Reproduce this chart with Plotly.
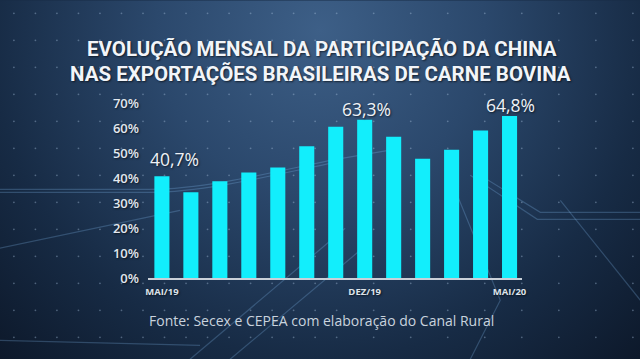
import base64
import plotly.graph_objects as go

# ---- data ----
months = ["MAI/19", "JUN/19", "JUL/19", "AGO/19", "SET/19", "OUT/19", "NOV/19",
          "DEZ/19", "JAN/20", "FEV/20", "MAR/20", "ABR/20", "MAI/20"]
share = [40.7, 34.3, 38.7, 42.2, 44.2, 52.7, 60.5, 63.3, 56.5, 47.7, 51.3, 59.0, 64.8]
tick_labels = ["MAI/19", "DEZ/19", "MAI/20"]
tick_idx = [0, 7, 12]
y_ticks = [0, 10, 20, 30, 40, 50, 60, 70]
highlight_idx = [0, 7, 12]
highlight_text = ["40,7%", "63,3%", "64,8%"]

x = list(range(len(months)))

# ---- background (decorative svg) ----
W, H = 640, 359
dots = []
for row in range(14):
    yy = 13 + row * 27
    xx = 14
    while xx < W:
        dots.append(f'<circle cx="{xx:.1f}" cy="{yy}" r="0.9" fill="#a9c2de" fill-opacity="0.4"/>')
        xx += 21.5 if xx < 330 else 37
lines = [
    'M0,189 L150,189 C200,189 260,175 330,160 L400,148',
    'M0,192 L150,192 C200,192 260,178 330,163',
    'M470,175 L537,219 L640,219',
    'M475,172 L540,212 L640,212',
    'M190,359 L345,228',
    'M230,359 L360,250',
    'M455,190 L500,300 L470,359',
    'M0,340 L200,345',
    'M560,200 L640,300',
    'M-10,250 L180,210',
]
paths = ''.join(f'<path d="{d}" stroke="#8fc7ff" stroke-opacity="0.24" stroke-width="1.2" fill="none"/>' for d in lines)
svg = f'''<svg xmlns="http://www.w3.org/2000/svg" width="{W}" height="{H}" viewBox="0 0 {W} {H}" preserveAspectRatio="none">
<defs><radialGradient id="g" cx="320" cy="30" r="470" gradientUnits="userSpaceOnUse">
<stop offset="0" stop-color="#3d5f87"/><stop offset="0.35" stop-color="#2b486c"/>
<stop offset="0.7" stop-color="#172b45"/><stop offset="1" stop-color="#0c1728"/></radialGradient></defs>
<rect width="{W}" height="{H}" fill="url(#g)"/>{paths}{''.join(dots)}</svg>'''
bg_src = "data:image/svg+xml;base64," + base64.b64encode(svg.encode()).decode()

# plot area in pixels
L, R, T, B = 148, 521.7, 102.7, 277.7
pw, ph = R - L, B - T

def px(xp):
    return (xp - L) / pw

def py(yp):
    return (B - yp) / ph

fig = go.Figure()
fig.add_trace(go.Bar(x=x, y=share, marker=dict(color="#12eefc", line=dict(width=0)),
                     hoverinfo="skip"))

shadow = "1px 1px 2px rgba(0,0,0,0.6)"
shifts = [(13, 17), (2, 11), (1, 11)]
for i, t, (dx, dy) in zip(highlight_idx, highlight_text, shifts):
    fig.add_annotation(x=i, y=share[i], text=t, showarrow=False, xshift=dx, yshift=dy,
                       xanchor="center", yanchor="middle",
                       font=dict(family="Open Sans", size=17.5, color="#eef2f7", shadow=shadow))

title_font = dict(family="Roboto", size=20.5, color="#f2f5f9", weight="bold", shadow=shadow)
fig.add_annotation(xref="paper", yref="paper", x=px(321.5), y=py(49), xanchor="center", yanchor="middle",
                   text="EVOLUÇÃO MENSAL DA PARTICIPAÇÃO DA CHINA", showarrow=False, font=title_font)
fig.add_annotation(xref="paper", yref="paper", x=px(320), y=py(73.5), xanchor="center", yanchor="middle",
                   text="NAS EXPORTAÇÕES BRASILEIRAS DE CARNE BOVINA", showarrow=False, font=title_font)
fig.add_annotation(xref="paper", yref="paper", x=px(321), y=py(320), xanchor="center", yanchor="middle",
                   text="Fonte: Secex e CEPEA com elaboração do Canal Rural", showarrow=False,
                   font=dict(family="Open Sans", size=14, color="#c9d3de"))

fig.add_layout_image(source=bg_src, xref="paper", yref="paper", x=px(0), y=py(0),
                     sizex=W / pw, sizey=H / ph, xanchor="left", yanchor="top",
                     sizing="stretch", layer="below")

fig.update_layout(
    width=W, height=H, margin=dict(l=L, r=W - R, t=T, b=H - B),
    paper_bgcolor="#172b45", plot_bgcolor="rgba(0,0,0,0)",
    bargap=0.48, showlegend=False,
    xaxis=dict(range=[-0.48, 12.43], tickvals=tick_idx, ticktext=tick_labels,
               showgrid=False, zeroline=False, showline=True, linecolor="#c9d0d8", linewidth=1.5,
               ticks="", ticklabelstandoff=4,
               tickfont=dict(family="Open Sans", size=9.5, color="#dde3ea", weight="bold", shadow=shadow)),
    yaxis=dict(range=[0, 70], tickvals=y_ticks, ticktext=[f"{v}%" for v in y_ticks],
               showgrid=False, zeroline=False, showline=False, ticks="", ticklabelstandoff=8,
               tickfont=dict(family="Open Sans", size=13, color="#e2e8ef", weight=600, shadow=shadow)),
)

fig.write_html("out.html", config={"displayModeBar": False},
               post_script="document.body.style.margin='0';document.body.style.background='#172b45';")
